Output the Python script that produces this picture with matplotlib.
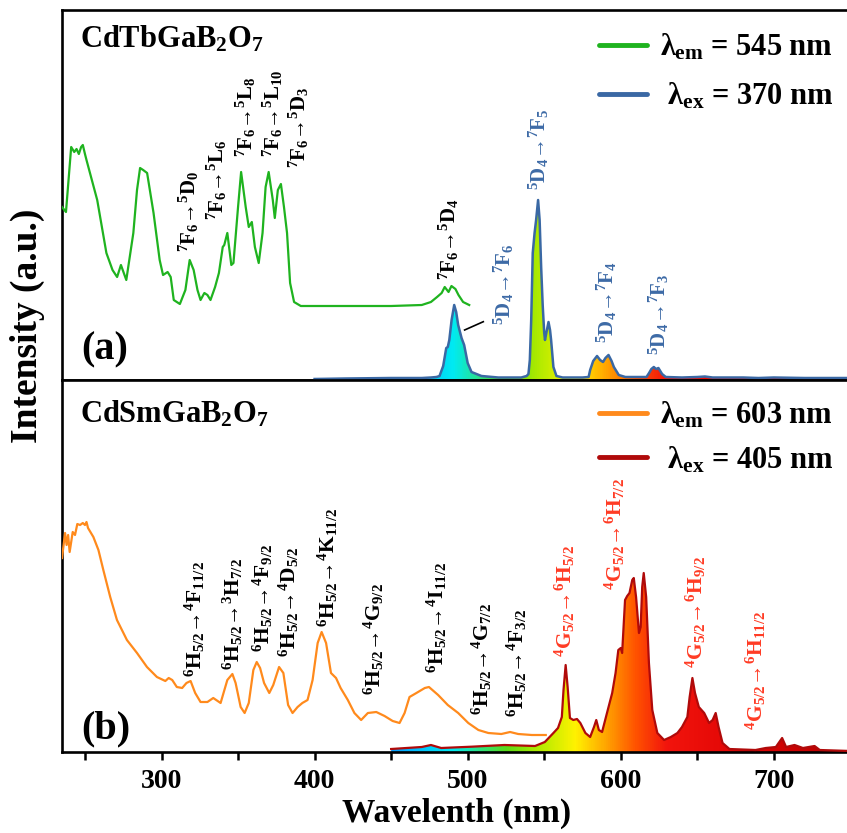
import numpy as np
import matplotlib
matplotlib.use("Agg")
import matplotlib.pyplot as plt
from matplotlib.colors import LinearSegmentedColormap, Normalize

plt.rcParams['font.family'] = ['Liberation Serif', 'DejaVu Serif']
plt.rcParams['font.weight'] = 'bold'
plt.rcParams['mathtext.fontset'] = 'custom'
plt.rcParams['mathtext.rm'] = 'Liberation Serif:bold'
plt.rcParams['mathtext.it'] = 'Liberation Serif:bold'
plt.rcParams['mathtext.bf'] = 'Liberation Serif:bold'

# ---------------- data ----------------
# (a) CdTbGaB2O7 excitation, lambda_em = 545 nm
tb_ex_wl = [235, 237.6, 241, 243, 244.5, 246, 247.5, 248.6, 250, 251, 258, 264, 268, 271, 273.5, 277,
            281.6, 284, 286, 288, 290.6, 294.8, 298.8, 301, 304, 306, 308, 312, 315.6, 318.4, 321, 323.5,
            325.5, 328, 330, 332, 335, 337.5, 340, 341, 343, 345.6, 347, 350, 352, 355, 357, 359, 361,
            363.5, 366, 368, 370, 372.7, 374, 376, 378, 380, 382, 384, 386.6, 391, 420, 450, 470, 476,
            480, 483, 485, 487.5, 489.4, 492, 494, 497, 501]
tb_ex_int = [173, 168, 233, 228, 231, 226, 233, 235, 226, 220, 180, 127, 110, 103, 115, 100,
             147, 190, 212, 210, 207, 167, 120, 105, 108, 103, 80, 76, 90, 120, 110, 90,
             80, 87, 85, 80, 93, 107, 133, 135, 147, 115, 117, 173, 208, 173, 153, 158, 133,
             117, 147, 193, 208, 180, 162, 190, 196, 173, 147, 97, 78, 74, 74, 74, 75, 78,
             83, 87, 93, 88, 94, 91, 85, 78, 75]

# (a) CdTbGaB2O7 emission, lambda_ex = 370 nm
tb_em_wl = [400, 420, 450, 470, 476, 479.6, 481.6, 484, 486, 487, 488, 489.5, 491.2, 492.5, 493.8, 496,
            497.7, 500, 502.5, 509, 520, 535, 538.5, 539.7, 540.6, 541.5, 542.5, 543.7, 544.7, 546,
            547, 548, 549, 550, 550.5, 551.5, 552.8, 553.8, 554.5, 556, 558, 562, 575, 579, 580, 582,
            584.5, 586.5, 588.4, 590, 592, 594, 595.5, 598.7, 603, 610, 616.8, 618.5, 620, 621.6, 623,
            624.6, 627, 629.4, 640, 650, 655, 660, 680, 690, 700, 720, 750]
tb_em_int = [1, 1.5, 2, 2, 2.5, 3, 4, 14, 32, 33, 40, 60, 75, 68, 55, 42,
             35, 17, 8, 4, 2.5, 2.5, 4, 6, 20, 60, 127, 147, 160, 180,
             160, 113, 75, 47, 40, 48, 58, 50, 40, 13, 4, 2.5, 2.5, 3, 10, 19,
             24, 20, 18, 22, 25, 19, 13, 5, 3, 3, 3, 7, 11, 13, 11,
             12, 6, 3, 2.5, 3, 3.5, 2.5, 2.5, 2, 2.5, 2, 2]

# (b) CdSmGaB2O7 excitation, lambda_em = 603 nm
sm_ex_wl = [235, 237, 238, 239, 240, 242, 243.5, 245, 246.8, 248.6, 250, 251, 252, 255.5, 258.8, 262,
            266.5, 270.9, 277.4, 284, 290.5, 297, 302.5, 304.7, 307, 310, 313.5, 316.3, 319, 322, 325.5,
            330, 333.8, 338.6, 343, 346.3, 348.4, 351.7, 354.3, 357, 360, 362.2, 364.4, 367, 370.4, 373,
            376.8, 379.6, 382.7, 385.6, 388.9, 392, 395.4, 398.7, 402, 404.6, 407.5, 410.7, 414, 417,
            421.7, 426, 430.4, 434.8, 440.3, 445.7, 451, 455.5, 458.8, 462, 466.5, 472, 474.7, 480.7,
            487, 493.8, 500.4, 507, 513.5, 522, 527.7, 533, 541.9, 551]
sm_ex_int = [194, 219, 207, 217, 200, 220, 217, 228, 227, 229, 227, 230, 224, 215, 202, 182,
             155, 132, 112, 99, 85, 75, 71, 74, 72, 65, 64, 69, 71, 59, 50,
             50, 54, 49, 72, 78, 69, 45, 39, 49, 82, 90, 84, 69, 59, 67,
             85, 79, 47, 39, 45, 49, 52, 72, 109, 120, 109, 79, 74, 64,
             52, 39, 32, 39, 40, 36, 31, 29, 39, 55, 59, 64, 65, 57,
             47, 39, 29, 22, 19, 18, 20, 18, 17, 17]

# (b) CdSmGaB2O7 emission, lambda_ex = 405 nm
sm_em_wl = [450, 460, 470, 476, 482.7, 502.5, 524, 544, 550.4, 556, 559, 561.5, 562.6, 564, 565.3,
            566.8, 569, 571.4, 573.6, 576.9, 580, 582.5, 584, 585.7, 587.8, 591, 594.4, 596.6, 598.4,
            600, 600.9, 602.8, 604.2, 605.7, 607.5, 608.5, 610, 611.9, 613, 614, 615, 616.6, 618.4,
            620.6, 623.9, 628.3, 632.7, 637, 640, 643.5, 645, 646.8, 648.5, 651, 654.5, 657.7, 660,
            662, 663.9, 666.5, 671, 688, 694.7, 701.3, 705.4, 708, 713.5, 719, 726.6, 730, 750]
sm_em_int = [3, 4, 5, 7, 4, 5.3, 7, 6, 10, 19, 24, 35, 62, 87, 65,
             34, 32, 33, 29, 19, 15, 25, 32, 22, 20, 39, 59, 79, 102,
             104, 99, 152, 156, 159, 172, 174, 155, 119, 125, 165, 179, 155, 89,
             42, 19, 12, 15, 19, 25, 35, 55, 74, 59, 45, 39, 29, 32,
             39, 25, 9, 3, 2, 4, 5, 14, 5, 7, 4, 6, 2, 1]

x_ticks = [300, 400, 500, 600, 700]

tb_labels = ['$^{7}$F$_{6}$→$^{5}$D$_{0}$',
             '$^{7}$F$_{6}$→$^{5}$L$_{6}$',
             '$^{7}$F$_{6}$→$^{5}$L$_{8}$',
             '$^{7}$F$_{6}$→$^{5}$L$_{10}$',
             '$^{7}$F$_{6}$→$^{5}$D$_{3}$',
             '$^{7}$F$_{6}$→$^{5}$D$_{4}$']
tb_lab_x = [317.6, 336, 355, 372.7, 389.8, 488]
tb_lab_y = [128, 160, 223, 223, 212, 100]

tb_em_labels = ['$^{5}$D$_{4}$→$^{7}$F$_{6}$',
                '$^{5}$D$_{4}$→$^{7}$F$_{5}$',
                '$^{5}$D$_{4}$→$^{7}$F$_{4}$',
                '$^{5}$D$_{4}$→$^{7}$F$_{3}$']
tb_em_lab_x = [523.9, 546.8, 591, 625]
tb_em_lab_y = [55, 190, 37, 25]

sm_labels = ['$^{6}$H$_{5/2}$→$^{4}$F$_{11/2}$',
             '$^{6}$H$_{5/2}$→$^{3}$H$_{7/2}$',
             '$^{6}$H$_{5/2}$→$^{4}$F$_{9/2}$',
             '$^{6}$H$_{5/2}$→$^{4}$D$_{5/2}$',
             '$^{6}$H$_{5/2}$→$^{4}$K$_{11/2}$',
             '$^{6}$H$_{5/2}$→$^{4}$G$_{9/2}$',
             '$^{6}$H$_{5/2}$→$^{4}$I$_{11/2}$',
             '$^{6}$H$_{5/2}$→$^{4}$G$_{7/2}$',
             '$^{6}$H$_{5/2}$→$^{4}$F$_{3/2}$']
sm_lab_x = [321.6, 346.5, 366.5, 383.2, 408.8, 438.9, 479.6, 509.1, 532]
sm_lab_y = [75, 82, 100, 95, 125, 57, 79, 37, 35]

sm_em_labels = ['$^{4}$G$_{5/2}$→$^{6}$H$_{5/2}$',
                '$^{4}$G$_{5/2}$→$^{6}$H$_{7/2}$',
                '$^{4}$G$_{5/2}$→$^{6}$H$_{9/2}$',
                '$^{4}$G$_{5/2}$→$^{6}$H$_{11/2}$']
sm_em_lab_x = [563.5, 596.3, 648.8, 688.1]
sm_em_lab_y = [95, 162, 84, 22]

# ---------------- styles ----------------
GREEN = '#1fb31f'
BLUE = '#3a68a4'
ORANGE = '#ff8a1c'
DRED = '#b00a0a'
RED_TXT = '#ff3b24'
BLUE_TXT = '#3d6aa6'

spec = LinearSegmentedColormap.from_list('spec', [
    (0.00, (0.25, 0.20, 1.00)),   # 400
    (60/350, (0.00, 0.70, 1.00)), # 460
    (90/350, (0.00, 0.92, 0.95)), # 490
    (110/350, (0.20, 0.88, 0.45)),# 510
    (125/350, (0.35, 0.85, 0.10)),# 525
    (145/350, (0.68, 0.92, 0.00)),# 545
    (170/350, (1.00, 0.95, 0.00)),# 570
    (190/350, (1.00, 0.65, 0.00)),# 590
    (210/350, (1.00, 0.32, 0.00)),# 610
    (230/350, (0.95, 0.08, 0.05)),# 630
    (280/350, (0.88, 0.02, 0.02)),# 680
    (1.00, (0.70, 0.00, 0.00))])  # 750
norm = Normalize(400, 750)

W, H = 847, 833
fig = plt.figure(figsize=(W/100, H/100), dpi=100)
left = 62/W
width = 1.004 - left
ax1 = fig.add_axes([left, 1-380/H, width, 370/H])
ax2 = fig.add_axes([left, 1-752/H, width, 372/H])


def grad_fill(ax, x, y, ytop):
    poly = ax.fill_between(x, 0, y, color='none', lw=0)
    path = poly.get_paths()[0]
    grad = np.linspace(min(x), max(x), 700)[None, :]
    im = ax.imshow(grad, cmap=spec, norm=norm, extent=[min(x), max(x), 0, ytop],
                   aspect='auto', origin='lower', zorder=1, interpolation='bilinear')
    im.set_clip_path(path, transform=ax.transData)


# top panel
grad_fill(ax1, tb_em_wl, tb_em_int, 200)
l1, = ax1.plot(tb_ex_wl, tb_ex_int, color=GREEN, lw=1.6, zorder=3)
l2, = ax1.plot(tb_em_wl, tb_em_int, color=BLUE, lw=1.8, zorder=3)
ax1.set_xlim(235, 750)
ax1.set_ylim(0, 370)

# bottom panel
grad_fill(ax2, sm_em_wl, sm_em_int, 200)
l3, = ax2.plot(sm_ex_wl, sm_ex_int, color=ORANGE, lw=1.6, zorder=3)
l4, = ax2.plot(sm_em_wl, sm_em_int, color=DRED, lw=1.6, zorder=3)
ax2.set_xlim(235, 750)
ax2.set_ylim(0, 372)

for ax in (ax1, ax2):
    for s in ax.spines.values():
        s.set_linewidth(1.9)
    ax.set_yticks([])
ax1.set_xticks([])
ax2.set_xticks(np.arange(250, 751, 50))
ax2.set_xticklabels([str(v) if v in x_ticks else '' for v in np.arange(250, 751, 50)])
ax2.tick_params(axis='x', direction='out', length=6, width=1.8, labelsize=20, pad=6)
ax2.set_xlabel('Wavelenth (nm)', fontsize=24, fontweight='bold', labelpad=3)
fig.text(27/W, 1-326/H, 'Intensity (a.u.)', rotation=90, ha='center', va='center',
         fontsize=27, fontweight='bold')

ax1.text(0.023, 0.90, r'CdTbGaB$_2$O$_7$', transform=ax1.transAxes, fontsize=22,
         fontweight='bold', va='baseline')
ax2.text(0.023, 0.887, r'CdSmGaB$_2$O$_7$', transform=ax2.transAxes, fontsize=22,
         fontweight='bold', va='baseline')
ax1.text(0.025, 0.055, '(a)', transform=ax1.transAxes, fontsize=29, fontweight='bold', va='baseline')
ax2.text(0.025, 0.036, '(b)', transform=ax2.transAxes, fontsize=29, fontweight='bold', va='baseline')

fs_top = 15
fs_bot = 15.5
for t, x, y in zip(tb_labels, tb_lab_x, tb_lab_y):
    ax1.text(x, y, t, rotation=90, ha='center', va='bottom', fontsize=fs_top, color='black')
for t, x, y in zip(tb_em_labels, tb_em_lab_x, tb_em_lab_y):
    ax1.text(x, y, t, rotation=90, ha='center', va='bottom', fontsize=fs_top, color=BLUE_TXT)
ax1.plot([498, 510.2], [50, 58.3], color='black', lw=1.2)
for t, x, y in zip(sm_labels, sm_lab_x, sm_lab_y):
    ax2.text(x, y, t, rotation=90, ha='center', va='bottom', fontsize=fs_bot, color='black')
for t, x, y in zip(sm_em_labels, sm_em_lab_x, sm_em_lab_y):
    ax2.text(x, y, t, rotation=90, ha='center', va='bottom', fontsize=fs_bot, color=RED_TXT)

leg_kw = dict(loc='upper right', frameon=False, fontsize=22, handlelength=1.55,
              handletextpad=0.45, borderaxespad=0.3)
ax1.legend([l1, l2], [r'$\lambda_{\rm em}$ = 545 nm', r' $\lambda_{\rm ex}$ = 370 nm'],
           labelspacing=0.6, bbox_to_anchor=(1.006, 0.997), **leg_kw)
ax2.legend([l3, l4], [r'$\lambda_{\rm em}$ = 603 nm', r' $\lambda_{\rm ex}$ = 405 nm'],
           labelspacing=0.45, bbox_to_anchor=(1.006, 1.003), **leg_kw)
for lg in (ax1.get_legend(), ax2.get_legend()):
    for ln in lg.get_lines():
        ln.set_linewidth(3.5)
        ln.set_solid_capstyle('round')

fig.savefig('out.png', dpi=100)
